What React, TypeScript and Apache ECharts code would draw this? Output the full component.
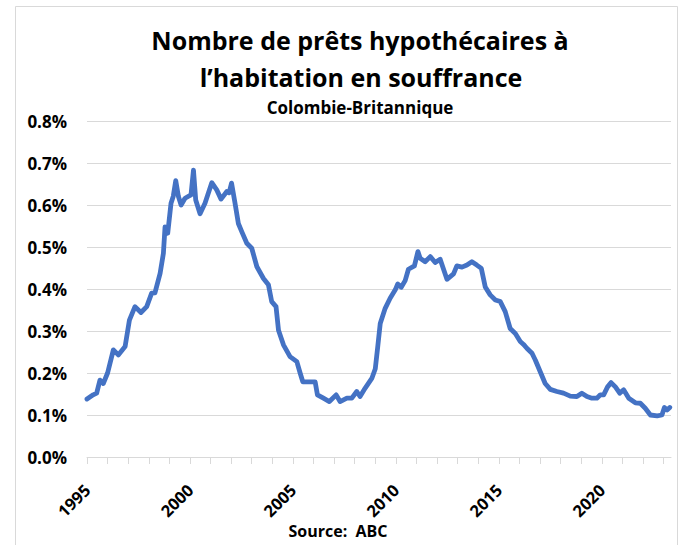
import React, { useEffect, useRef } from "react";
import * as echarts from "echarts";

const titleLines = ["Nombre de prêts hypothécaires à", "l’habitation en souffrance"];
const subtitle = "Colombie-Britannique";
const sourceText = "Source:  ABC";

// Decimal year of each reading
const years = [
  1995.0, 1995.3, 1995.47, 1995.63, 1995.79, 1996.0, 1996.28, 1996.52, 1996.85, 1997.06,
  1997.33, 1997.62, 1997.9, 1998.14, 1998.3, 1998.55, 1998.71, 1998.79, 1998.92, 1999.08,
  1999.19, 1999.31, 1999.44, 1999.57, 1999.76, 2000.05, 2000.17, 2000.28, 2000.49, 2000.73,
  2001.06, 2001.3, 2001.51, 2001.79, 2001.9, 2002.02, 2002.19, 2002.35, 2002.52, 2002.76,
  2003.0, 2003.25, 2003.57, 2003.81, 2003.97, 2004.18, 2004.3, 2004.54, 2004.86, 2005.19,
  2005.35, 2005.48, 2006.08, 2006.19, 2006.48, 2006.77, 2007.1, 2007.29, 2007.62, 2007.86,
  2008.1, 2008.26, 2008.51, 2008.83, 2009.0, 2009.12, 2009.24, 2009.48, 2009.72, 2009.97,
  2010.09, 2010.26, 2010.45, 2010.61, 2010.9, 2011.07, 2011.18, 2011.42, 2011.67, 2011.91,
  2012.15, 2012.48, 2012.8, 2012.96, 2013.21, 2013.45, 2013.69, 2013.93, 2014.15, 2014.34,
  2014.58, 2014.83, 2015.07, 2015.31, 2015.55, 2015.8, 2016.04, 2016.2, 2016.36, 2016.61,
  2016.77, 2017.01, 2017.25, 2017.5, 2017.82, 2018.14, 2018.47, 2018.79, 2019.03, 2019.28,
  2019.52, 2019.76, 2019.93, 2020.09, 2020.28, 2020.45, 2020.66, 2020.87, 2021.06, 2021.31,
  2021.63, 2021.87, 2022.11, 2022.36, 2022.69, 2022.92, 2023.04, 2023.17, 2023.3,
];

// Share of mortgages in arrears, in percent
const arrears = [
  0.138, 0.148, 0.152, 0.183, 0.175, 0.2, 0.255, 0.243, 0.263, 0.326,
  0.358, 0.344, 0.358, 0.39, 0.391, 0.437, 0.485, 0.548, 0.533, 0.604,
  0.621, 0.658, 0.62, 0.6, 0.616, 0.624, 0.683, 0.612, 0.579, 0.604,
  0.653, 0.636, 0.614, 0.632, 0.629, 0.652, 0.604, 0.556, 0.536, 0.509,
  0.497, 0.453, 0.425, 0.41, 0.37, 0.358, 0.302, 0.267, 0.239, 0.227,
  0.2, 0.179, 0.179, 0.148, 0.14, 0.132, 0.148, 0.132, 0.14, 0.14,
  0.156, 0.144, 0.164, 0.187, 0.21, 0.263, 0.318, 0.354, 0.378, 0.398,
  0.412, 0.404, 0.42, 0.447, 0.455, 0.489, 0.473, 0.465, 0.477, 0.463,
  0.471, 0.423, 0.436, 0.455, 0.452, 0.457, 0.465, 0.457, 0.449, 0.405,
  0.386, 0.374, 0.37, 0.346, 0.306, 0.294, 0.275, 0.268, 0.259, 0.247,
  0.231, 0.203, 0.175, 0.161, 0.156, 0.152, 0.145, 0.144, 0.152, 0.144,
  0.14, 0.14, 0.148, 0.148, 0.167, 0.177, 0.167, 0.152, 0.16, 0.14,
  0.129, 0.128, 0.116, 0.1, 0.098, 0.1, 0.118, 0.112, 0.118,
];

const FONT = "'Open Sans', Lato, sans-serif";

export default function App() {
  const ref = useRef<HTMLDivElement>(null);
  useEffect(() => {
    if (!ref.current) return;
    const chart = echarts.init(ref.current, undefined, { renderer: "svg" });
    const data = years.map((y, i) => [y, arrears[i]]);
    chart.setOption({
      animation: false,
      backgroundColor: "#ffffff",
      grid: { left: 87, right: 10, top: 121, bottom: 88, containLabel: false },
      xAxis: {
        type: "value",
        min: 1995,
        max: 2023.36,
        interval: 1,
        axisLine: { show: true, lineStyle: { color: "#d9d9d9", width: 1 } },
        axisTick: { show: true, length: 7, lineStyle: { color: "#d9d9d9" } },
        splitLine: { show: false },
        axisLabel: {
          rotate: 45,
          margin: 30,
          showMaxLabel: false,
          fontFamily: FONT,
          fontWeight: "bold",
          fontSize: 16.5,
          color: "#000",
          formatter: (v: number) => (Math.round(v) % 5 === 0 ? String(Math.round(v)) : ""),
        },
      },
      yAxis: {
        type: "value",
        min: 0,
        max: 0.8,
        interval: 0.1,
        axisLine: { show: false },
        axisTick: { show: false },
        splitLine: { lineStyle: { color: "#d9d9d9", width: 1 } },
        axisLabel: {
          margin: 20,
          fontFamily: FONT,
          fontWeight: "bold",
          fontSize: 17,
          color: "#000",
          formatter: (v: number) => v.toFixed(1) + "%",
        },
      },
      series: [
        {
          type: "line",
          data,
          showSymbol: false,
          smooth: false,
          lineStyle: { color: "#4472C4", width: 4.8, join: "round", cap: "round" },
        },
      ],
      graphic: [
        {
          type: "rect",
          z: -1,
          shape: { x: 15.5, y: 6.5, width: 662, height: 600 },
          style: { fill: "none", stroke: "#d9d9d9", lineWidth: 1 },
        },
        {
          type: "text",
          x: 360,
          y: 40,
          style: {
            text: titleLines[0],
            textAlign: "center",
            textVerticalAlign: "middle",
            font: `bold 25px ${FONT}`,
            fill: "#000",
          },
        },
        {
          type: "text",
          x: 361,
          y: 77,
          style: {
            text: titleLines[1],
            textAlign: "center",
            textVerticalAlign: "middle",
            font: `bold 25px ${FONT}`,
            fill: "#000",
          },
        },
        {
          type: "text",
          x: 360,
          y: 107,
          style: {
            text: subtitle,
            textAlign: "center",
            textVerticalAlign: "middle",
            font: `bold 17px ${FONT}`,
            fill: "#000",
          },
        },
        {
          type: "text",
          x: 338,
          y: 531,
          style: {
            text: sourceText,
            textAlign: "center",
            textVerticalAlign: "middle",
            font: `bold 16px ${FONT}`,
            fill: "#000",
          },
        },
      ],
    });
    return () => chart.dispose();
  }, []);
  return (
    <div
      ref={ref}
      style={{ position: "fixed", left: 0, top: 0, width: 681, height: 545, background: "#fff" }}
    />
  );
}
